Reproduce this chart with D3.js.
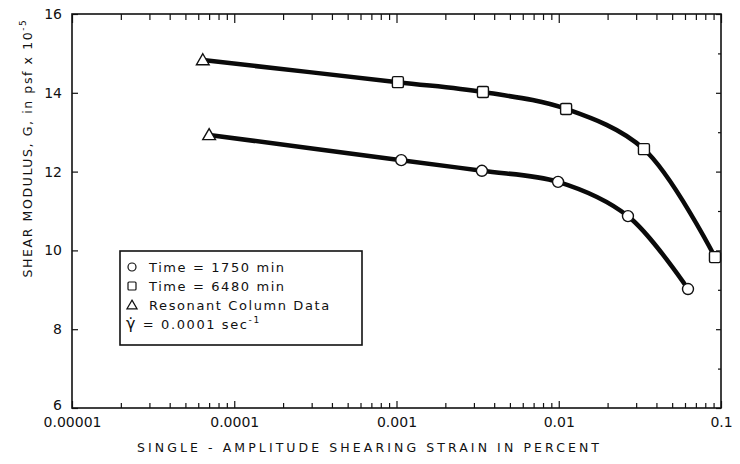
<!DOCTYPE html>
<html lang="en">
<head>
<meta charset="UTF-8">
<title>Shear modulus vs strain</title>
<script src="https://d3js.org/d3.v7.min.js"></script>
<style>
  body { margin: 0; background: #fff; }
  svg text { font-family: "DejaVu Sans", sans-serif; fill: #111; }
</style>
</head>
<body>
<div id="chart"></div>
<script>
// data (strain in percent, G in psf x 10^-5)
var strain1750 = [0.00007, 0.00107, 0.00336, 0.0099, 0.0267, 0.0626];
var modulus1750 = [12.93, 12.29, 12.02, 11.74, 10.87, 9.02];
var strain6480 = [0.000064, 0.00102, 0.00341, 0.0111, 0.0335, 0.0918];
var modulus6480 = [14.83, 14.27, 14.02, 13.59, 12.57, 9.83];
// first point of each curve is resonant column data
var markers1750 = ['triangle', 'circle', 'circle', 'circle', 'circle', 'circle'];
var markers6480 = ['triangle', 'square', 'square', 'square', 'square', 'square'];

var xTicks = [0.00001, 0.0001, 0.001, 0.01, 0.1];
var xTickLabels = ['0.00001', '0.0001', '0.001', '0.01', '0.1'];
var yTicks = [6, 8, 10, 12, 14, 16];
var yMinor = [7, 9, 11, 13, 15];

var legendLabels = ['Time = 1750 min', 'Time = 6480 min', 'Resonant Column Data'];
var legendMarkers = ['circle', 'square', 'triangle'];

var width = 740, height = 464;
var margin = { top: 14, right: 19, bottom: 56, left: 72 };
var innerW = width - margin.left - margin.right,
    innerH = height - margin.top - margin.bottom;

var svg = d3.select('#chart').append('svg')
  .attr('width', width)
  .attr('height', height);

var x = d3.scaleLog().domain([0.00001, 0.1]).range([0, innerW]);
var y = d3.scaleLinear().domain([6, 16]).range([innerH, 0]);

var g = svg.append('g')
  .attr('transform', 'translate(' + margin.left + ',' + margin.top + ')');

// minor x ticks 2..9 in each decade
var xMinor = [];
xTicks.slice(0, -1).forEach(function(d) {
  for (var k = 2; k <= 9; k++) xMinor.push(d * k);
});

function styleAxis(sel) {
  sel.select('.domain').remove();
  sel.selectAll('line').attr('stroke', '#111').attr('stroke-width', 1.2);
}

// top ticks pointing in
g.append('g').call(d3.axisBottom(x).tickValues(xMinor).tickSize(6).tickFormat(''))
  .call(styleAxis);
g.append('g').call(d3.axisBottom(x).tickValues(xTicks).tickSize(9).tickFormat(''))
  .call(styleAxis);

// bottom ticks pointing in
g.append('g').attr('transform', 'translate(0,' + innerH + ')')
  .call(d3.axisTop(x).tickValues(xMinor).tickSize(5).tickFormat(''))
  .call(styleAxis);
g.append('g').attr('transform', 'translate(0,' + innerH + ')')
  .call(d3.axisTop(x).tickValues(xTicks).tickSize(7).tickFormat(''))
  .call(styleAxis);

// bottom labels
var xLab = g.append('g').attr('transform', 'translate(0,' + innerH + ')')
  .call(d3.axisBottom(x).tickValues(xTicks).tickSize(0).tickPadding(9)
    .tickFormat(function(d, i) { return xTickLabels[i]; }));
xLab.select('.domain').remove();
xLab.selectAll('text').attr('font-size', 14).attr('font-family', 'DejaVu Sans').attr('fill', '#111');

// left axis
g.append('g')
  .call(d3.axisRight(y).tickValues(yTicks).tickSize(6).tickFormat(''))
  .call(styleAxis);
var yLab = g.append('g')
  .call(d3.axisLeft(y).tickValues(yTicks).tickSize(0).tickPadding(10));
yLab.select('.domain').remove();
yLab.selectAll('text').attr('font-size', 14).attr('font-family', 'DejaVu Sans').attr('fill', '#111')
  .attr('dy', function(d) { return d === 6 ? '0.1em' : '0.32em'; });

// right axis
g.append('g').attr('transform', 'translate(' + innerW + ',0)')
  .call(d3.axisLeft(y).tickValues(yTicks).tickSize(5).tickFormat(''))
  .call(styleAxis);
g.append('g').attr('transform', 'translate(' + innerW + ',0)')
  .call(d3.axisLeft(y).tickValues(yMinor).tickSize(3).tickFormat(''))
  .call(styleAxis);

// frame
g.append('rect')
  .attr('x', 0).attr('y', 0)
  .attr('width', innerW).attr('height', innerH)
  .attr('fill', 'none').attr('stroke', '#111').attr('stroke-width', 1.6);

// curves
var line = d3.line()
  .x(function(d) { return x(d[0]); })
  .y(function(d) { return y(d[1]); })
  .curve(d3.curveCatmullRom.alpha(0.5));

var series = [
  { xs: strain6480, ys: modulus6480, marks: markers6480 },
  { xs: strain1750, ys: modulus1750, marks: markers1750 }
];

function drawMarker(sel, type, cx, cy) {
  if (type === 'circle') {
    sel.append('circle').attr('cx', cx).attr('cy', cy).attr('r', 5.5);
  } else if (type === 'square') {
    sel.append('rect').attr('x', cx - 5.5).attr('y', cy - 5.5)
      .attr('width', 11).attr('height', 11).attr('rx', 1.5);
  } else {
    sel.append('path').attr('d', d3.symbol().type(d3.symbolTriangle).size(70)())
      .attr('transform', 'translate(' + cx + ',' + (cy + 1) + ')');
  }
}

series.forEach(function(s) {
  var pts = s.xs.map(function(v, i) { return [v, s.ys[i]]; });
  g.append('path')
    .datum(pts)
    .attr('d', line)
    .attr('fill', 'none')
    .attr('stroke', '#0a0a0a')
    .attr('stroke-width', 4.5)
    .attr('stroke-linecap', 'round');
  var mg = g.append('g').attr('fill', '#fff').attr('stroke', '#111').attr('stroke-width', 1.4);
  pts.forEach(function(p, i) {
    drawMarker(mg, s.marks[i], x(p[0]), y(p[1]));
  });
});

// legend
var leg = svg.append('g');
leg.append('rect')
  .attr('x', 120).attr('y', 251).attr('width', 242).attr('height', 94)
  .attr('fill', '#fff').attr('stroke', '#111').attr('stroke-width', 1.6);
var rowY = [267, 286, 305, 324];
var lm = leg.append('g').attr('fill', '#fff').attr('stroke', '#111').attr('stroke-width', 1.2);
legendMarkers.forEach(function(m, i) {
  if (m === 'circle') lm.append('circle').attr('cx', 132).attr('cy', rowY[i]).attr('r', 4);
  else if (m === 'square') lm.append('rect').attr('x', 128).attr('y', rowY[i] - 4).attr('width', 8).attr('height', 8).attr('rx', 1);
  else lm.append('path').attr('d', d3.symbol().type(d3.symbolTriangle).size(45)())
    .attr('transform', 'translate(132,' + (rowY[i] + 1) + ')');
});
legendLabels.forEach(function(t, i) {
  leg.append('text').attr('x', 149).attr('y', rowY[i] + 5)
    .attr('font-size', 13).attr('letter-spacing', 1.6).text(t);
});
var rate = leg.append('text').attr('x', 126).attr('y', rowY[3] + 5)
  .attr('font-size', 13).attr('letter-spacing', 1.6);
rate.append('tspan').attr('font-size', 16).text('\u03b3\u0307');
rate.append('tspan').text(' = 0.0001 sec');
rate.append('tspan').attr('dy', -6).attr('font-size', 9).text('-1');

// axis titles
svg.append('text')
  .attr('x', 368).attr('y', 452)
  .attr('text-anchor', 'middle')
  .attr('font-size', 12.5)
  .attr('textLength', 462)
  .attr('lengthAdjust', 'spacing')
  .text('SINGLE - AMPLITUDE  SHEARING STRAIN  IN  PERCENT');

var yt = svg.append('text')
  .attr('transform', 'translate(32,148) rotate(-90)')
  .attr('text-anchor', 'middle')
  .attr('font-size', 12.5)
  .attr('letter-spacing', 1.6);
yt.append('tspan').text('SHEAR MODULUS, G, in psf x 10');
yt.append('tspan').attr('dy', -6).attr('font-size', 9).text('-5');
</script>
</body>
</html>
